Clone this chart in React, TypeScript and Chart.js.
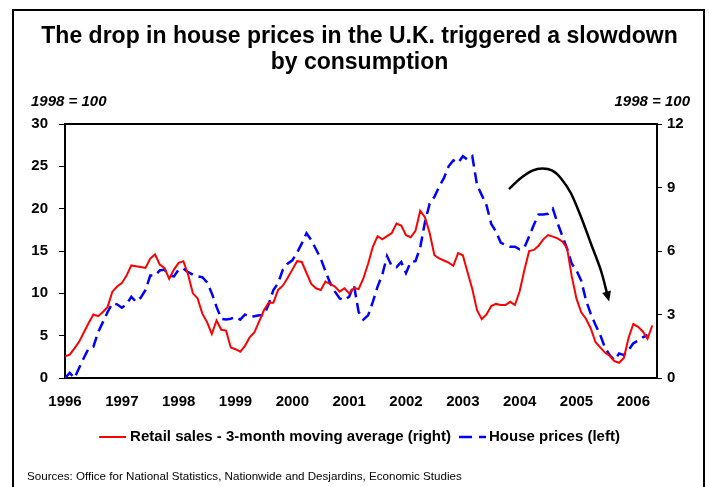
import { useEffect, useRef } from 'react';
import { Chart, registerables } from 'chart.js';

Chart.register(...registerables);

const FONT = "'Liberation Sans', Arial, Helvetica, sans-serif";

const TITLE_LINES = ['The drop in house prices in the U.K. triggered a slowdown', 'by consumption'];
const AXIS_NOTE = '1998 = 100';
const SOURCE = 'Sources: Office for National Statistics, Nationwide and Desjardins, Economic Studies';
const RETAIL_LABEL = 'Retail sales - 3-month moving average (right)';
const HOUSE_LABEL = 'House prices (left)';

// Tick labels (one per January, monthly data from Jan 1996)
const YEARS = ['1996', '1997', '1998', '1999', '2000', '2001', '2002', '2003', '2004', '2005', '2006'];

// Retail sales, 3-month moving average (right axis), monthly from Jan 1996
const RETAIL_SALES = [
  1.02, 1.10, 1.40, 1.72, 2.16, 2.60, 3.00, 2.92, 3.12, 3.36,
  4.08, 4.32, 4.48, 4.84, 5.32, 5.28, 5.24, 5.20, 5.64, 5.84,
  5.36, 5.20, 4.68, 5.12, 5.44, 5.52, 4.88, 4.00, 3.76, 3.04,
  2.64, 2.08, 2.72, 2.28, 2.24, 1.44, 1.36, 1.24, 1.52, 1.92,
  2.16, 2.68, 3.20, 3.56, 3.56, 4.16, 4.36, 4.72, 5.12, 5.52,
  5.48, 4.96, 4.44, 4.24, 4.16, 4.56, 4.44, 4.32, 4.08, 4.24,
  4.00, 4.25, 4.20, 4.70, 5.40, 6.20, 6.70, 6.55, 6.70, 6.85,
  7.30, 7.20, 6.75, 6.65, 6.95, 7.90, 7.60, 6.85, 5.80, 5.65,
  5.55, 5.45, 5.30, 5.90, 5.80, 5.00, 4.20, 3.20, 2.78, 3.00,
  3.40, 3.50, 3.45, 3.45, 3.60, 3.45, 4.10, 5.10, 6.00, 6.05,
  6.25, 6.55, 6.75, 6.68, 6.60, 6.45, 6.15, 4.80, 3.75, 3.10,
  2.80, 2.35, 1.70, 1.45, 1.20, 1.05, 0.80, 0.72, 0.95, 1.90,
  2.55, 2.42, 2.20, 1.85, 2.48,
];

// House prices (left axis), monthly from Jan 1996
const HOUSE_PRICES = [
  0.0, 0.6, 0.0, 1.2, 2.4, 3.5, 3.7, 5.4, 6.6, 7.8,
  8.8, 8.7, 8.3, 8.7, 9.6, 9.0, 9.5, 10.4, 12.1, 12.1,
  12.7, 12.8, 12.1, 12.0, 12.8, 12.9, 12.5, 12.2, 12.0, 11.9,
  11.3, 10.0, 8.4, 7.0, 6.9, 7.0, 7.2, 6.9, 7.5, 7.2,
  7.3, 7.4, 7.4, 8.7, 10.4, 11.2, 12.8, 13.5, 13.9, 14.8,
  15.9, 17.1, 16.3, 15.2, 14.1, 12.6, 11.2, 10.2, 9.4, 9.2,
  9.6, 11.0, 7.8, 6.9, 7.4, 9.0, 10.8, 12.2, 14.4, 13.2,
  13.1, 13.7, 12.4, 13.7, 13.8, 15.4, 18.4, 20.6, 21.4, 22.6,
  23.6, 25.0, 25.7, 25.4, 26.2, 25.8, 26.2, 22.8, 21.6, 20.4,
  18.2, 17.3, 16.0, 15.7, 15.5, 15.5, 15.2, 15.4, 16.7, 18.1,
  19.3, 19.3, 19.4, 20.0, 18.3, 16.8, 15.3, 13.5, 12.7, 11.5,
  9.2, 7.6, 6.3, 5.1, 3.6, 2.7, 2.1, 2.9, 2.7, 3.3,
  4.1, 4.4, 4.8, 5.1,
];

// Curved annotation arrow, in (month index, left-axis value)
const ARROW = [
  { x: 93.9, y: 22.4 },
  { x: 96.2, y: 23.6 },
  { x: 98.7, y: 24.5 },
  { x: 100.8, y: 24.75 },
  { x: 102.9, y: 24.5 },
  { x: 104.7, y: 23.6 },
  { x: 106.8, y: 21.85 },
  { x: 108.9, y: 19.1 },
  { x: 111.0, y: 15.95 },
  { x: 113.1, y: 12.8 },
  { x: 114.9, y: 9.05 },
];

const decorPlugin = {
  id: 'decor',
  beforeDraw(chart: any) {
    const ctx = chart.ctx;
    ctx.save();
    ctx.fillStyle = '#ffffff';
    ctx.fillRect(0, 0, chart.width, chart.height);
    ctx.strokeStyle = '#000';
    ctx.lineWidth = 2;
    ctx.strokeRect(13, 10, 691, 540);
    ctx.restore();
  },
  afterDatasetsDraw(chart: any) {
    const ctx = chart.ctx;
    const xs = chart.scales.x;
    const ys = chart.scales.y;
    const pts = ARROW.map((p) => ({ x: xs.getPixelForValue(p.x), y: ys.getPixelForValue(p.y) }));
    ctx.save();
    const n = pts.length;
    const tip = pts[n - 1];
    const prev = pts[n - 2];
    const ang = Math.atan2(tip.y - prev.y, tip.x - prev.x);
    const headLen = 10;
    const headW = 4.5;
    const base = { x: tip.x - Math.cos(ang) * headLen * 0.8, y: tip.y - Math.sin(ang) * headLen * 0.8 };
    const body = pts.slice(0, n - 1).concat([base]);
    ctx.strokeStyle = '#000';
    ctx.lineWidth = 2.5;
    ctx.lineCap = 'round';
    ctx.beginPath();
    ctx.moveTo(body[0].x, body[0].y);
    for (let i = 0; i < body.length - 1; i++) {
      const p0 = body[i - 1] || body[i];
      const p1 = body[i];
      const p2 = body[i + 1];
      const p3 = body[i + 2] || p2;
      ctx.bezierCurveTo(
        p1.x + (p2.x - p0.x) / 6, p1.y + (p2.y - p0.y) / 6,
        p2.x - (p3.x - p1.x) / 6, p2.y - (p3.y - p1.y) / 6,
        p2.x, p2.y,
      );
    }
    ctx.stroke();
    const bx = tip.x - Math.cos(ang) * headLen;
    const by = tip.y - Math.sin(ang) * headLen;
    ctx.fillStyle = '#000';
    ctx.beginPath();
    ctx.moveTo(tip.x, tip.y);
    ctx.lineTo(bx + Math.sin(ang) * headW, by - Math.cos(ang) * headW);
    ctx.lineTo(bx - Math.sin(ang) * headW, by + Math.cos(ang) * headW);
    ctx.closePath();
    ctx.fill();

    const a = chart.chartArea;
    ctx.strokeStyle = '#000';
    ctx.lineWidth = 2;
    ctx.lineCap = 'butt';
    ctx.beginPath();
    ctx.moveTo(a.left - 1, a.top);
    ctx.lineTo(a.right + 1, a.top);
    ctx.stroke();
    ctx.restore();
  },
  afterDraw(chart: any) {
    const ctx = chart.ctx;
    ctx.save();
    ctx.fillStyle = '#000';
    ctx.textBaseline = 'middle';
    ctx.textAlign = 'center';
    ctx.font = `bold 23px ${FONT}`;
    ctx.fillText(TITLE_LINES[0], 359.5, 37);
    ctx.fillText(TITLE_LINES[1], 359.5, 63);
    ctx.font = `italic bold 15px ${FONT}`;
    ctx.textAlign = 'left';
    ctx.fillText(AXIS_NOTE, 31, 102);
    ctx.textAlign = 'right';
    ctx.fillText(AXIS_NOTE, 690, 102);
    ctx.font = `bold 15px ${FONT}`;
    ctx.textAlign = 'left';
    const w1 = ctx.measureText(RETAIL_LABEL).width;
    const w2 = ctx.measureText(HOUSE_LABEL).width;
    const sw = 27;
    const total = sw + 4 + w1 + 8 + sw + 3 + w2;
    let x = 359.5 - total / 2;
    const ly = 437;
    ctx.strokeStyle = '#FF0000';
    ctx.lineWidth = 2;
    ctx.beginPath();
    ctx.moveTo(x, ly);
    ctx.lineTo(x + sw, ly);
    ctx.stroke();
    x += sw + 4;
    ctx.fillText(RETAIL_LABEL, x, ly);
    x += w1 + 8;
    ctx.strokeStyle = '#0000FF';
    ctx.lineWidth = 2.5;
    ctx.setLineDash([13, 7]);
    ctx.beginPath();
    ctx.moveTo(x, ly);
    ctx.lineTo(x + sw, ly);
    ctx.stroke();
    ctx.setLineDash([]);
    x += sw + 3;
    ctx.fillText(HOUSE_LABEL, x, ly);
    ctx.font = `11.6px ${FONT}`;
    ctx.fillText(SOURCE, 27, 477);
    ctx.restore();
  },
};

export default function App() {
  const ref = useRef<HTMLCanvasElement | null>(null);

  useEffect(() => {
    if (!ref.current) return;
    const tickFont = { family: FONT, size: 15, weight: 'bold' as const };
    const chart = new Chart(ref.current, {
      type: 'line',
      data: {
        datasets: [
          {
            label: RETAIL_LABEL,
            data: RETAIL_SALES.map((y, i) => ({ x: i, y })),
            yAxisID: 'y1',
            borderColor: '#FF0000',
            backgroundColor: '#FF0000',
            borderWidth: 2,
            pointRadius: 0,
            tension: 0,
            fill: false,
          },
          {
            label: HOUSE_LABEL,
            data: HOUSE_PRICES.map((y, i) => ({ x: i, y })),
            yAxisID: 'y',
            borderColor: '#0000FF',
            backgroundColor: '#0000FF',
            borderWidth: 2.5,
            borderDash: [11, 6],
            pointRadius: 0,
            tension: 0,
            fill: false,
          },
        ],
      },
      options: {
        responsive: false,
        animation: false,
        devicePixelRatio: 1,
        layout: { padding: { top: 124, left: 0, right: 0, bottom: 0 } },
        plugins: {
          legend: { display: false },
          title: { display: false },
          tooltip: { enabled: false },
        },
        scales: {
          x: {
            type: 'linear',
            min: 0,
            max: 125,
            grid: { display: false },
            border: { display: true, color: '#000', width: 2 },
            ticks: {
              stepSize: 12,
              includeBounds: false,
              autoSkip: false,
              maxRotation: 0,
              padding: 7,
              color: '#000',
              font: tickFont,
              callback: (v: any) => {
                const i = Number(v) / 12;
                return Number.isInteger(i) && YEARS[i] ? YEARS[i] : '';
              },
            },
            afterFit: (s: any) => {
              s.height = 109;
            },
          },
          y: {
            position: 'left',
            min: 0,
            max: 30,
            grid: { drawOnChartArea: false, drawTicks: true, tickLength: 6, color: '#000', lineWidth: 1 },
            border: { display: true, color: '#000', width: 2 },
            ticks: { stepSize: 5, padding: 11, color: '#000', font: tickFont },
            afterFit: (s: any) => {
              s.width = 65;
            },
          },
          y1: {
            position: 'right',
            min: 0,
            max: 12,
            grid: { drawOnChartArea: false, drawTicks: true, tickLength: 5, color: '#000', lineWidth: 1 },
            border: { display: true, color: '#000', width: 2 },
            ticks: { stepSize: 3, padding: 5, color: '#000', font: tickFont },
            afterFit: (s: any) => {
              s.width = 52;
            },
          },
        },
      } as any,
      plugins: [decorPlugin],
    });
    return () => chart.destroy();
  }, []);

  return (
    <div style={{ position: 'fixed', left: 0, top: 0, width: 709, height: 487, background: '#fff' }}>
      <canvas ref={ref} width={709} height={487} style={{ display: 'block', width: 709, height: 487 }} />
    </div>
  );
}
